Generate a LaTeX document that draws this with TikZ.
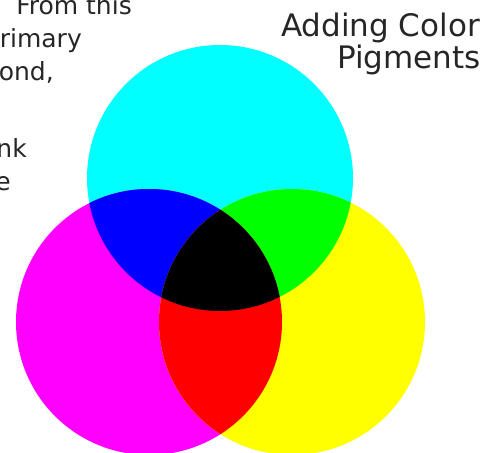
\documentclass[tikz,border=0pt]{standalone}
\usepackage{fontspec}
\newfontfamily\dvfont{DejaVu Sans}
\definecolor{pcyan}{RGB}{0,255,255}
\definecolor{pmag}{RGB}{255,0,255}
\definecolor{pyel}{RGB}{255,255,0}
\definecolor{pblue}{RGB}{0,0,255}
\definecolor{pgreen}{RGB}{0,255,0}
\definecolor{pred}{RGB}{255,0,0}
\definecolor{pblack}{RGB}{0,0,0}
\definecolor{txt}{RGB}{38,38,38}
\tikzset{
  bodytext/.style={inner sep=0pt, text=txt, font=\dvfont\fontsize{25}{25}\selectfont},
  titletext/.style={inner sep=0pt, text=txt, font=\dvfont\fontsize{31}{31}\selectfont},
}
\begin{document}
\begin{tikzpicture}[x=1pt,y=-1pt]
\useasboundingbox (0,0) rectangle (488,453);
\def\R{133}
\coordinate (cc) at (220,178);
\coordinate (mc) at (149,322);
\coordinate (yc) at (292,322);
% base circles
\fill[pcyan] (cc) circle (\R);
\fill[pmag] (mc) circle (\R);
\fill[pyel] (yc) circle (\R);
% pairwise overlaps
\begin{scope}
  \clip (cc) circle (\R);
  \fill[pblue] (mc) circle (\R);
  \fill[pgreen] (yc) circle (\R);
\end{scope}
\begin{scope}
  \clip (mc) circle (\R);
  \fill[pred] (yc) circle (\R);
\end{scope}
% triple overlap
\begin{scope}
  \clip (cc) circle (\R);
  \clip (mc) circle (\R);
  \fill[pblack] (yc) circle (\R);
\end{scope}
% title
\node[titletext, anchor=base east] (t1) at (480,36) {Adding Color};
\node[titletext, anchor=base east] (t2) at (481,68) {Pigments};
% cropped body text
\node[bodytext, anchor=base east] (l1) at (132,14) {From this};
\node[bodytext, anchor=base east] (l2) at (82,47) {rimary};
\node[bodytext, anchor=base east] (l3) at (54,80) {cond,};
\node[bodytext, anchor=base east] (l4) at (27,157) {nk};
\node[bodytext, anchor=base east] (l5) at (11,190) {e};
\end{tikzpicture}
\end{document}
